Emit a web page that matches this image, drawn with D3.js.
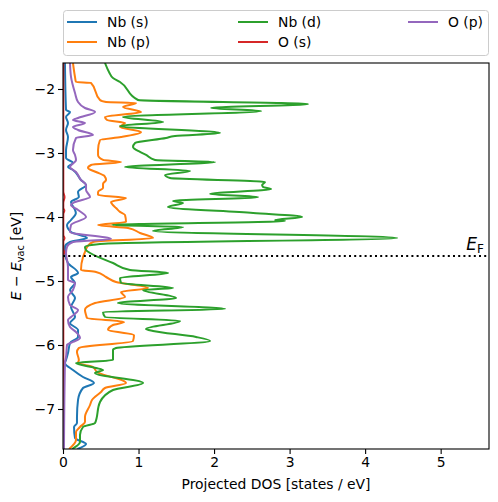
<!DOCTYPE html>
<html><head><meta charset="utf-8">
<script src="https://cdn.jsdelivr.net/npm/d3@7"></script>
<style>body{margin:0;background:#fff} svg text{font-family:"DejaVu Sans",sans-serif;fill:#000}</style>
</head><body><svg id="c" width="498" height="502"></svg>
<script>
// ---- data: [energy (eV), projected DOS (states/eV)] ----
const seriesNames = ["Nb (s)", "Nb (p)", "Nb (d)", "O (s)", "O (p)"];
const seriesColors = ["#1f77b4", "#ff7f0e", "#2ca02c", "#d62728", "#9467bd"];
const xTicks = [0, 1, 2, 3, 4, 5];
const yTicks = [-2, -3, -4, -5, -6, -7];
const xDomain = [0, 5.64];
const yDomain = [-7.625, -1.594];
const fermiLevel = -4.61;

const nbS = [[-1.594,0.026],[-2.328,0.04],[-2.359,0.093],[-2.4375,0.04],[-2.531,0.066],[-2.64,0.04],[-2.75,0.066],
[-2.953,0.04],[-3.078,0.04],[-3.156,0.132],[-3.219,0.066],[-3.266,0.132],[-3.422,0.238],[-3.5,0.305],[-3.609,0.199],
[-3.6875,0.21],[-3.766,0.106],[-3.891,0.159],[-3.94,0.17],[-4.047,0.106],[-4.125,0.053],[-4.234,0.106],[-4.328,0.318],
[-4.391,0.093],[-4.469,0.026],[-4.5625,0.026],[-4.719,0.066],[-4.875,0.199],[-4.9375,0.106],[-5.031,0.159],[-5.141,0.093],
[-5.266,0.159],[-5.406,0.106],[-5.5625,0.159],[-5.656,0.093],[-5.766,0.199],[-5.875,0.199],[-5.969,0.093],[-6.125,0.066],
[-6.234,0.04],[-6.281,0.026],[-6.391,0.132],[-6.5,0.265],[-6.594,0.41],[-6.672,0.265],[-6.859,0.199],[-7.125,0.185],
[-7.219,0.185],[-7.281,0.146],[-7.453,0.159],[-7.547,0.305],[-7.625,0.19]];

const nbP = [[-1.594,0.132],[-1.8125,0.159],[-1.891,0.172],[-1.906,0.371],[-2.172,0.49],[-2.203,0.57],[-2.219,0.967],
[-2.281,0.795],[-2.359,1.033],[-2.4375,0.556],[-2.484,0.583],[-2.531,0.821],[-2.594,0.755],[-2.672,1.033],[-2.75,0.768],
[-2.797,0.49],[-2.953,0.464],[-3.031,0.464],[-3.109,0.53],[-3.141,0.768],[-3.1875,0.371],[-3.234,0.331],[-3.297,0.437],
[-3.36,0.55],[-3.422,0.57],[-3.48,0.53],[-3.547,0.53],[-3.609,0.464],[-3.656,0.464],[-3.703,0.834],[-3.766,0.636],
[-3.8125,0.66],[-3.859,0.702],[-3.92,0.755],[-3.969,0.821],[-4.078,0.834],[-4.125,0.464],[-4.172,0.861],[-4.25,1.02],
[-4.328,1.192],[-4.391,0.397],[-4.469,0.318],[-4.547,0.291],[-4.625,0.265],[-4.828,0.238],[-4.859,0.437],[-4.9375,0.57],
[-5.016,0.702],[-5.109,1.126],[-5.172,0.768],[-5.25,0.821],[-5.344,0.424],[-5.453,0.291],[-5.531,0.305],[-5.578,0.318],
[-5.641,0.808],[-5.6875,0.662],[-5.766,0.596],[-5.844,0.94],[-5.9375,0.927],[-6.047,0.21],[-6.109,0.185],[-6.234,0.21],
[-6.281,0.199],[-6.344,0.397],[-6.422,0.45],[-6.594,0.834],[-6.672,0.556],[-6.734,0.503],[-6.859,0.384],[-6.9375,0.358],
[-7.125,0.291],[-7.203,0.291],[-7.281,0.225],[-7.359,0.172],[-7.484,0.172],[-7.625,0.08]];

const nbD = [[-1.594,0.556],[-1.734,0.609],[-1.828,0.662],[-1.891,0.755],[-2.172,0.993],[-2.234,3.245],[-2.297,1.96],
[-2.344,2.623],[-2.4375,0.795],[-2.516,1.325],[-2.578,0.755],[-2.6875,2.079],[-2.734,1.483],[-2.766,1.364],[-2.844,0.954],
[-2.906,0.927],[-2.984,1.02],[-3.031,1.10],[-3.109,1.219],[-3.141,2.013],[-3.219,0.821],[-3.281,1.682],[-3.344,1.351],
[-3.391,1.417],[-3.453,2.675],[-3.5,2.636],[-3.531,2.649],[-3.5625,2.755],[-3.641,1.947],[-3.6875,2.583],[-3.75,1.457],
[-3.781,1.589],[-3.844,1.39],[-3.9375,2.517],[-4.0,3.166],[-4.047,2.808],[-4.0625,2.94],[-4.125,0.65],[-4.156,1.589],
[-4.219,1.192],[-4.328,4.424],[-4.422,0.49],[-4.469,0.291],[-4.516,0.305],[-4.5625,0.358],[-4.719,0.662],[-4.828,0.887],
[-4.875,1.391],[-4.953,0.755],[-5.031,0.768],[-5.109,1.457],[-5.141,1.06],[-5.266,1.497],[-5.344,0.728],[-5.4375,2.146],
[-5.484,0.53],[-5.5625,0.556],[-5.625,1.55],[-5.75,1.099],[-5.781,1.192],[-5.875,1.762],[-5.9375,1.947],[-6.047,0.702],
[-6.078,0.662],[-6.234,0.662],[-6.281,0.172],[-6.359,0.437],[-6.391,0.53],[-6.4375,0.424],[-6.594,1.06],[-6.703,0.662],
[-6.891,0.49],[-7.219,0.424],[-7.281,0.265],[-7.406,0.225],[-7.516,0.225],[-7.625,0.12]];

const oS = [[-1.594,0.004],[-3.6,0.004],[-3.69,0.02],[-3.78,0.004],[-3.86,0.004],[-3.9,0.018],[-3.95,0.004],
[-4.28,0.004],[-4.33,0.02],[-4.38,0.004],[-4.5,0.004],[-4.55,0.015],[-4.6,0.004],[-7.625,0.004]];

const oP = [[-1.594,0.093],[-1.8125,0.106],[-2.0625,0.159],[-2.203,0.199],[-2.297,0.291],[-2.359,0.424],[-2.453,0.199],
[-2.484,0.132],[-2.531,0.291],[-2.594,0.132],[-2.641,0.199],[-2.719,0.397],[-2.766,0.172],[-2.953,0.132],[-3.031,0.159],
[-3.109,0.172],[-3.219,0.093],[-3.297,0.172],[-3.422,0.238],[-3.5,0.305],[-3.578,0.305],[-3.6875,0.358],[-3.766,0.159],
[-3.8125,0.106],[-3.891,0.199],[-4.0,0.305],[-4.125,0.106],[-4.234,0.093],[-4.344,0.636],[-4.391,0.132],[-4.469,0.053],
[-4.5625,0.04],[-4.781,0.066],[-4.984,0.066],[-5.031,0.159],[-5.141,0.132],[-5.25,0.066],[-5.375,0.093],[-5.453,0.199],
[-5.5625,0.106],[-5.609,0.066],[-5.719,0.093],[-5.797,0.172],[-5.891,0.225],[-5.953,0.132],[-6.0,0.053],[-6.1875,0.04],
[-6.281,0.026],[-7.625,0.013]];

const seriesData = [nbS, nbP, nbD, oS, oP];

// ---- drawing ----
const svg = d3.select("#c");
const L = 63, R = 489, T = 63, B = 449;
const x = d3.scaleLinear().domain(xDomain).range([L, R]);
const y = d3.scaleLinear().domain(yDomain).range([B, T]);

svg.append("defs").append("clipPath").attr("id", "clip")
  .append("rect").attr("x", L).attr("y", T).attr("width", R - L).attr("height", B - T);

const line = d3.line().x(d => x(d[1])).y(d => y(d[0])).curve(d3.curveMonotoneY);
const g = svg.append("g").attr("clip-path", "url(#clip)");
seriesData.forEach((s, i) => {
  g.append("path").datum(s).attr("d", line).attr("fill", "none")
    .attr("stroke", seriesColors[i]).attr("stroke-width", 2).attr("stroke-linejoin", "round");
});

// Fermi level
g.append("line").attr("x1", L).attr("x2", R).attr("y1", y(fermiLevel)).attr("y2", y(fermiLevel))
  .attr("stroke", "#000").attr("stroke-width", 2).attr("stroke-dasharray", "2,3.2");

const ef = svg.append("text").attr("x", 484).attr("y", y(fermiLevel) - 6).attr("text-anchor", "end")
  .style("font-size", "17px");
ef.append("tspan").attr("font-style", "italic").text("E");
ef.append("tspan").attr("dy", 3).style("font-size", "12px").text("F");

// axes
const fmt = d => (d < 0 ? "\u2212" + Math.abs(d) : String(d));
const xAxis = svg.append("g").attr("transform", `translate(0,${B})`)
  .call(d3.axisBottom(x).tickValues(xTicks).tickFormat(fmt).tickSize(5).tickPadding(3));
const yAxis = svg.append("g").attr("transform", `translate(${L},0)`)
  .call(d3.axisLeft(y).tickValues(yTicks).tickFormat(fmt).tickSize(5).tickPadding(3));
[xAxis, yAxis].forEach(a => {
  a.select(".domain").remove();
  a.selectAll("line").attr("stroke", "#000").attr("stroke-width", 1.1);
  a.selectAll("text").style("font-size", "13.9px").style("font-family", "DejaVu Sans");
});
svg.append("rect").attr("x", L).attr("y", T).attr("width", R - L).attr("height", B - T)
  .attr("fill", "none").attr("stroke", "#000").attr("stroke-width", 1.1);

svg.append("text").attr("x", (L + R) / 2).attr("y", 489).attr("text-anchor", "middle")
  .style("font-size", "13.9px").text("Projected DOS [states / eV]");
const yl = svg.append("text").attr("transform", `translate(21,${(T + B) / 2}) rotate(-90)`)
  .attr("text-anchor", "middle").style("font-size", "13.9px");
yl.append("tspan").attr("font-style", "italic").text("E");
yl.append("tspan").text(" \u2212 ");
yl.append("tspan").attr("font-style", "italic").text("E");
yl.append("tspan").attr("dy", 3).style("font-size", "9.7px").text("vac");
yl.append("tspan").attr("dy", -3).text(" [eV]");

// legend
const lg = svg.append("g");
lg.append("rect").attr("x", 63.5).attr("y", 10.5).attr("width", 425).attr("height", 45).attr("rx", 3)
  .attr("fill", "#fff").attr("fill-opacity", 0.8).attr("stroke", "#cccccc").attr("stroke-width", 1);
const colX = [67, 238, 408], rowY = [22, 42];
seriesNames.forEach((n, i) => {
  const c = Math.floor(i / 2), r = i % 2;
  lg.append("line").attr("x1", colX[c]).attr("x2", colX[c] + 30).attr("y1", rowY[r]).attr("y2", rowY[r])
    .attr("stroke", seriesColors[i]).attr("stroke-width", 2);
  lg.append("text").attr("x", colX[c] + 40).attr("y", rowY[r] + 5).style("font-size", "13.9px").text(n);
});
</script></body></html>
